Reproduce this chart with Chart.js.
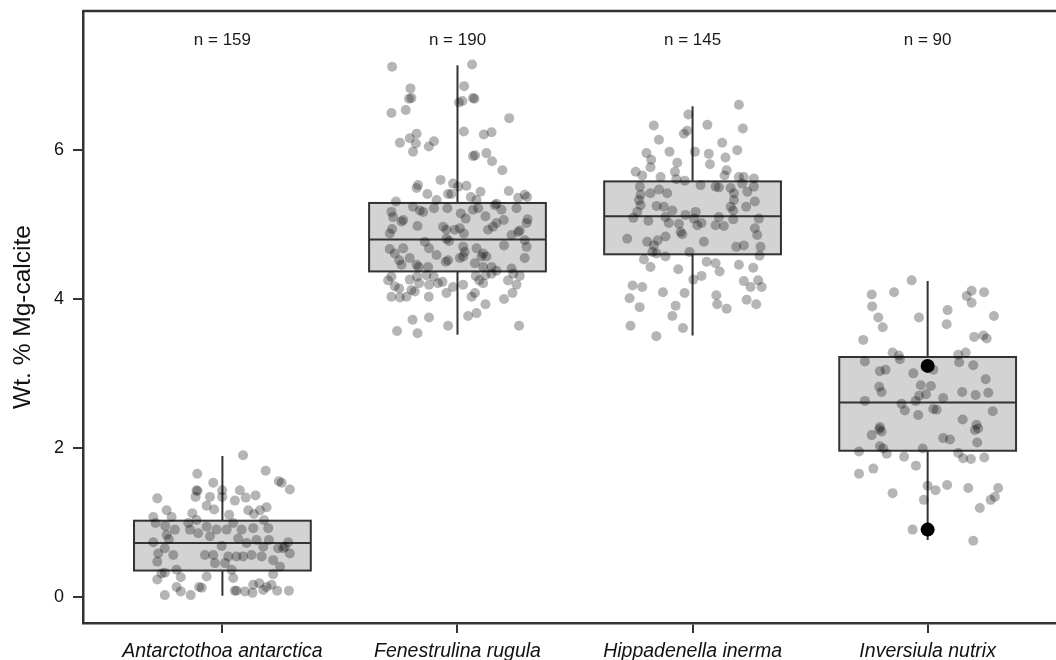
<!DOCTYPE html>
<html>
<head>
<meta charset="utf-8">
<script src="https://cdn.jsdelivr.net/npm/chart.js@4.4.1/dist/chart.umd.min.js"></script>
<style>
  html, body { margin: 0; padding: 0; background: #fff; overflow: hidden; }
  #wrap { width: 1056px; height: 660px; position: relative; }
  canvas { display: block; }
</style>
</head>
<body>
<div id="wrap"><canvas id="chart"></canvas></div>
<script>
// species on the x axis and sample counts shown above each box
const categories = ['Antarctothoa antarctica', 'Fenestrulina rugula', 'Hippadenella inerma', 'Inversiula nutrix'];
const sampleCounts = [159, 190, 145, 90];
const yTicks = [0, 2, 4, 6];

// box statistics (wt.% Mg-calcite)
const whiskerLow = [0.01, 3.52, 3.51, 0.76];
const boxQ1 = [0.35, 4.37, 4.60, 1.96];
const boxMedian = [0.72, 4.80, 5.11, 2.61];
const boxQ3 = [1.02, 5.29, 5.58, 3.22];
const whiskerHigh = [1.89, 7.14, 6.59, 4.24];

// highlighted specimens (black dots)
const highlightCat = [4, 4];
const highlightValues = [3.10, 0.90];

// jittered observations: horizontal jitter (category units) and value
const antJitter = [0.088,-0.107,0.184,0.240,0.252,0.287,-0.039,-0.110,-0.106,-0.114,-0.277,-0.001,-0.001,0.074,0.099,0.141,0.053,-0.053,-0.067,-0.035,
  -0.237,-0.294,-0.216,-0.128,0.029,0.110,0.134,0.160,0.188,0.177,-0.284,-0.243,-0.202,-0.145,-0.110,-0.067,-0.053,-0.025,0.018,0.046,
  0.082,0.131,0.195,-0.237,-0.228,-0.138,-0.103,-0.294,-0.245,-0.273,-0.209,-0.277,-0.003,0.067,0.103,0.145,0.174,0.198,0.237,0.259,
  0.266,0.280,0.287,-0.074,-0.039,-0.032,0.011,0.025,0.060,0.088,0.124,0.167,0.216,0.245,-0.259,-0.245,-0.277,-0.195,-0.177,-0.067,
  0.039,0.046,0.216,-0.195,-0.177,-0.245,-0.135,-0.099,-0.088,0.053,0.060,0.096,0.128,0.131,0.157,0.174,0.188,0.209,0.233,0.283];
const antValues = [1.90,1.65,1.69,1.55,1.53,1.44,1.53,1.43,1.42,1.34,1.32,1.43,1.34,1.43,1.33,1.36,1.29,1.34,1.22,1.17,
  1.16,1.07,1.07,1.12,1.10,1.16,1.11,1.16,1.20,1.03,0.99,0.95,0.90,0.99,1.03,0.94,0.81,0.90,0.90,0.99,
  0.90,0.92,0.92,0.83,0.77,0.90,0.85,0.73,0.65,0.58,0.56,0.47,0.68,0.78,0.72,0.76,0.67,0.76,0.65,0.65,
  0.67,0.73,0.58,0.56,0.56,0.45,0.45,0.54,0.54,0.54,0.56,0.54,0.49,0.40,0.31,0.32,0.23,0.36,0.26,0.27,
  0.36,0.25,0.30,0.13,0.07,0.02,0.02,0.13,0.12,0.08,0.08,0.07,0.05,0.16,0.18,0.09,0.13,0.16,0.08,0.08];

const fenJitter = [-0.278,0.062,-0.200,0.028,-0.206,-0.196,0.066,0.072,-0.281,-0.220,0.006,0.021,0.220,0.027,0.112,0.145,-0.245,-0.203,-0.174,-0.177,
  -0.189,-0.122,-0.100,0.066,0.075,0.123,0.147,0.191,-0.072,-0.168,-0.174,-0.128,-0.019,0.003,0.038,-0.040,-0.026,0.098,0.057,0.218,
  0.258,0.286,0.296,-0.262,-0.089,0.081,0.166,-0.281,-0.274,-0.231,-0.238,-0.189,-0.160,-0.146,-0.100,-0.043,0.014,0.035,0.066,0.088,
  0.119,0.159,0.187,0.197,0.251,0.298,0.294,-0.278,-0.288,-0.170,-0.061,-0.047,-0.011,0.010,0.027,0.130,0.151,0.166,0.230,0.258,
  0.265,0.286,0.294,-0.288,-0.267,-0.231,-0.139,-0.121,-0.089,-0.047,-0.036,0.024,0.031,0.081,0.109,0.123,0.198,0.286,-0.248,-0.238,
  -0.203,-0.174,-0.165,-0.125,-0.050,-0.040,0.010,0.024,0.074,0.102,0.109,0.145,0.230,-0.281,-0.295,-0.248,-0.267,-0.203,-0.172,-0.163,
  -0.132,-0.121,-0.101,-0.083,-0.064,-0.019,0.024,0.078,0.092,0.109,0.119,0.145,0.166,0.215,0.237,0.265,0.251,0.234,-0.281,-0.245,
  -0.217,-0.196,-0.182,-0.122,-0.047,0.060,0.074,0.198,0.119,-0.191,-0.121,-0.257,-0.170,-0.040,0.045,0.081,0.262];
const fenValues = [7.12,7.15,6.83,6.86,6.69,6.70,6.70,6.69,6.50,6.54,6.64,6.66,6.43,6.25,6.21,6.24,6.10,6.16,6.22,6.09,
  5.98,6.05,6.12,5.92,5.93,5.96,5.85,5.73,5.60,5.53,5.49,5.41,5.55,5.51,5.52,5.41,5.41,5.44,5.37,5.45,
  5.36,5.40,5.37,5.31,5.33,5.33,5.28,5.17,5.10,5.06,5.04,5.24,5.19,5.17,5.22,5.22,5.15,5.08,5.20,5.22,
  5.11,5.26,5.20,5.06,5.22,5.07,5.02,4.94,4.88,4.98,4.97,4.93,4.93,4.95,4.88,4.93,4.97,5.02,4.86,4.90,
  4.92,4.79,4.70,4.67,4.61,4.68,4.77,4.68,4.59,4.81,4.78,4.70,4.63,4.68,4.61,4.57,4.72,4.55,4.52,4.46,
  4.55,4.46,4.43,4.43,4.50,4.52,4.55,4.57,4.48,4.57,4.43,4.43,4.41,4.30,4.25,4.14,4.17,4.26,4.30,4.21,
  4.32,4.19,4.30,4.21,4.23,4.16,4.19,4.31,4.25,4.21,4.32,4.34,4.38,4.25,4.34,4.31,4.19,4.08,4.03,4.02,
  4.03,4.12,4.10,4.03,4.08,4.03,4.08,4.00,3.93,3.72,3.75,3.57,3.54,3.64,3.77,3.81,3.64];

const hipJitter = [0.197,-0.018,-0.165,0.063,0.214,-0.037,-0.023,-0.143,0.126,-0.196,-0.098,0.010,0.069,0.190,0.140,-0.176,-0.179,-0.065,0.074,-0.242,
  -0.214,-0.075,-0.136,0.145,0.136,0.197,0.218,0.261,-0.069,-0.033,-0.224,-0.221,-0.143,-0.108,-0.179,0.034,0.098,0.112,0.162,0.176,
  0.211,0.233,0.261,-0.228,-0.221,-0.235,-0.153,-0.122,-0.086,0.176,0.162,0.173,0.228,0.265,-0.252,-0.188,-0.115,-0.101,-0.058,-0.030,
  0.006,0.013,0.020,0.038,0.098,0.112,0.133,0.173,0.282,0.265,-0.278,-0.193,-0.165,-0.148,-0.115,-0.051,-0.044,0.048,0.186,0.218,
  0.275,0.289,-0.171,-0.153,-0.115,-0.013,0.285,-0.207,-0.179,-0.061,0.060,0.098,0.115,0.197,0.258,0.003,0.038,0.218,0.247,0.279,
  0.294,-0.255,-0.214,-0.126,-0.034,0.101,-0.268,-0.225,-0.072,-0.086,0.105,0.145,0.230,0.271,-0.264,-0.041,-0.154];
const hipValues = [6.61,6.48,6.33,6.34,6.29,6.22,6.26,6.14,6.10,5.96,5.98,5.98,5.95,6.00,5.90,5.87,5.77,5.83,5.81,5.71,
  5.66,5.71,5.64,5.73,5.66,5.64,5.64,5.62,5.61,5.59,5.51,5.40,5.47,5.42,5.42,5.53,5.51,5.50,5.49,5.42,
  5.55,5.44,5.51,5.33,5.26,5.17,5.25,5.24,5.19,5.33,5.24,5.19,5.24,5.31,5.09,5.05,5.10,5.02,5.01,5.13,
  5.08,5.17,4.99,5.02,4.99,5.10,4.98,5.07,5.08,4.95,4.81,4.77,4.72,4.79,4.84,4.90,4.87,4.77,4.70,4.72,
  4.86,4.70,4.63,4.61,4.57,4.63,4.58,4.53,4.43,4.40,4.50,4.48,4.37,4.46,4.42,4.26,4.31,4.24,4.16,4.25,
  4.16,4.18,4.16,4.09,4.08,4.05,4.01,3.89,3.91,3.77,3.93,3.87,3.99,3.93,3.64,3.61,3.50];

const invJitter = [-0.068,-0.238,-0.143,0.187,0.166,0.187,0.240,-0.236,0.085,0.282,-0.210,-0.191,-0.037,0.081,0.198,0.237,0.251,-0.274,-0.149,-0.122,
  -0.118,0.130,0.162,0.134,-0.267,0.024,0.194,-0.203,-0.179,-0.061,0.247,-0.206,-0.196,-0.029,0.014,-0.036,-0.007,0.066,0.147,0.204,
  0.258,-0.267,-0.111,-0.097,-0.051,-0.040,0.024,0.038,0.277,0.149,-0.203,-0.238,-0.196,-0.206,0.208,0.215,0.201,0.066,0.095,0.211,
  -0.203,-0.189,-0.021,-0.292,-0.174,-0.100,0.130,0.151,0.184,0.241,-0.292,-0.231,-0.050,0.000,0.034,0.083,0.173,0.300,0.286,0.268,
  -0.149,-0.016,0.222,-0.064,0.194];
const invValues = [4.25,4.06,4.09,4.11,4.04,3.95,4.09,3.90,3.85,3.77,3.75,3.62,3.75,3.66,3.49,3.51,3.47,3.45,3.28,3.24,
  3.19,3.25,3.28,3.15,3.16,3.05,3.11,3.03,3.05,3.00,2.92,2.82,2.75,2.84,2.83,2.70,2.72,2.67,2.75,2.71,
  2.74,2.63,2.59,2.50,2.63,2.44,2.52,2.51,2.49,2.38,2.28,2.17,2.22,2.25,2.31,2.26,2.24,2.13,2.11,2.07,
  2.02,1.99,1.99,1.95,1.92,1.88,1.93,1.86,1.85,1.87,1.65,1.72,1.76,1.49,1.43,1.50,1.46,1.46,1.34,1.30,
  1.39,1.30,1.19,0.90,0.75];

const FONT = "'Liberation Sans', Arial, Helvetica, sans-serif";
const INK = '#333333';
const boxHalfWidth = 0.376;
const countLabelLevel = 7.48;

function jittered(cat, offsets, values) {
    return values.map((v, i) => ({ x: cat + offsets[i], y: v }));
}

function pointSet(data) {
    return {
        data: data,
        pointRadius: 5,
        pointHoverRadius: 5,
        pointBackgroundColor: 'rgba(0, 0, 0, 0.29)',
        pointBorderWidth: 0,
        showLine: false
    };
}

// boxes, whiskers and the frame drawn through the chart scales
const boxPlugin = {
    id: 'boxes',
    beforeDatasetsDraw(chart) {
        const { ctx, scales: { x, y } } = chart;
        ctx.save();
        ctx.strokeStyle = INK;
        ctx.lineWidth = 2;
        categories.forEach((name, i) => {
            const cx = x.getPixelForValue(i + 1);
            const left = x.getPixelForValue(i + 1 - boxHalfWidth);
            const right = x.getPixelForValue(i + 1 + boxHalfWidth);
            const top = y.getPixelForValue(boxQ3[i]);
            const bottom = y.getPixelForValue(boxQ1[i]);
            ctx.beginPath();
            ctx.moveTo(cx, y.getPixelForValue(whiskerHigh[i]));
            ctx.lineTo(cx, top);
            ctx.moveTo(cx, bottom);
            ctx.lineTo(cx, y.getPixelForValue(whiskerLow[i]));
            ctx.stroke();
            ctx.fillStyle = '#d3d3d3';
            ctx.fillRect(left, top, right - left, bottom - top);
            ctx.strokeRect(left, top, right - left, bottom - top);
            const my = y.getPixelForValue(boxMedian[i]);
            ctx.beginPath();
            ctx.moveTo(left, my);
            ctx.lineTo(right, my);
            ctx.stroke();
        });
        ctx.restore();
    },
    afterDraw(chart) {
        const { ctx, chartArea, scales: { x, y } } = chart;
        ctx.save();
        ctx.strokeStyle = INK;
        ctx.lineWidth = 2.5;
        ctx.beginPath();
        ctx.moveTo(chartArea.left, chartArea.top);
        ctx.lineTo(chartArea.right, chartArea.top);
        ctx.stroke();
        ctx.fillStyle = '#1a1a1a';
        ctx.font = '17px ' + FONT;
        ctx.textAlign = 'center';
        ctx.textBaseline = 'middle';
        sampleCounts.forEach((n, i) => {
            ctx.fillText('n = ' + n, x.getPixelForValue(i + 1), y.getPixelForValue(countLabelLevel));
        });
        ctx.restore();
    }
};

document.addEventListener('DOMContentLoaded', () => {
    const ctx = document.getElementById('chart').getContext('2d');
    new Chart(ctx, {
        type: 'scatter',
        data: {
            datasets: [
                pointSet(jittered(1, antJitter, antValues)),
                pointSet(jittered(2, fenJitter, fenValues)),
                pointSet(jittered(3, hipJitter, hipValues)),
                pointSet(jittered(4, invJitter, invValues)),
                {
                    data: highlightValues.map((v, i) => ({ x: highlightCat[i], y: v })),
                    pointRadius: 7,
                    pointHoverRadius: 7,
                    pointBackgroundColor: '#000',
                    pointBorderWidth: 0
                }
            ]
        },
        options: {
            responsive: true,
            maintainAspectRatio: false,
            animation: false,
            events: [],
            layout: { autoPadding: false, padding: { top: 11, right: 0, bottom: 0, left: 0 } },
            scales: {
                x: {
                    type: 'linear',
                    min: 0.407,
                    max: 4.546,
                    afterBuildTicks: s => { s.ticks = categories.map((c, i) => ({ value: i + 1 })); },
                    afterFit: s => { s.height = 37; s.paddingLeft = 0; s.paddingRight = 0; },
                    grid: { drawOnChartArea: false, drawTicks: true, tickLength: 10, color: INK, lineWidth: 2 },
                    border: { display: true, color: INK, width: 2.5 },
                    ticks: {
                        callback: (v, i) => categories[i],
                        autoSkip: false,
                        maxRotation: 0,
                        padding: 7,
                        color: '#111',
                        font: { family: FONT, size: 19.5, style: 'italic' }
                    }
                },
                y: {
                    min: -0.355,
                    max: 7.87,
                    afterBuildTicks: s => { s.ticks = yTicks.map(v => ({ value: v })); },
                    afterFit: s => { s.width = 83; s.paddingTop = 0; s.paddingBottom = 0; },
                    grid: { drawOnChartArea: false, drawTicks: true, tickLength: 10, color: INK, lineWidth: 2 },
                    border: { display: true, color: INK, width: 2.5 },
                    ticks: {
                        padding: 9,
                        color: '#111',
                        font: { family: FONT, size: 18 }
                    },
                    title: {
                        display: true,
                        text: 'Wt. % Mg-calcite',
                        color: '#111',
                        font: { family: FONT, size: 24.5 },
                        padding: { top: 9, bottom: 0 }
                    }
                }
            },
            plugins: {
                legend: { display: false },
                tooltip: { enabled: false }
            }
        },
        plugins: [boxPlugin]
    });
});
</script>
</body>
</html>
